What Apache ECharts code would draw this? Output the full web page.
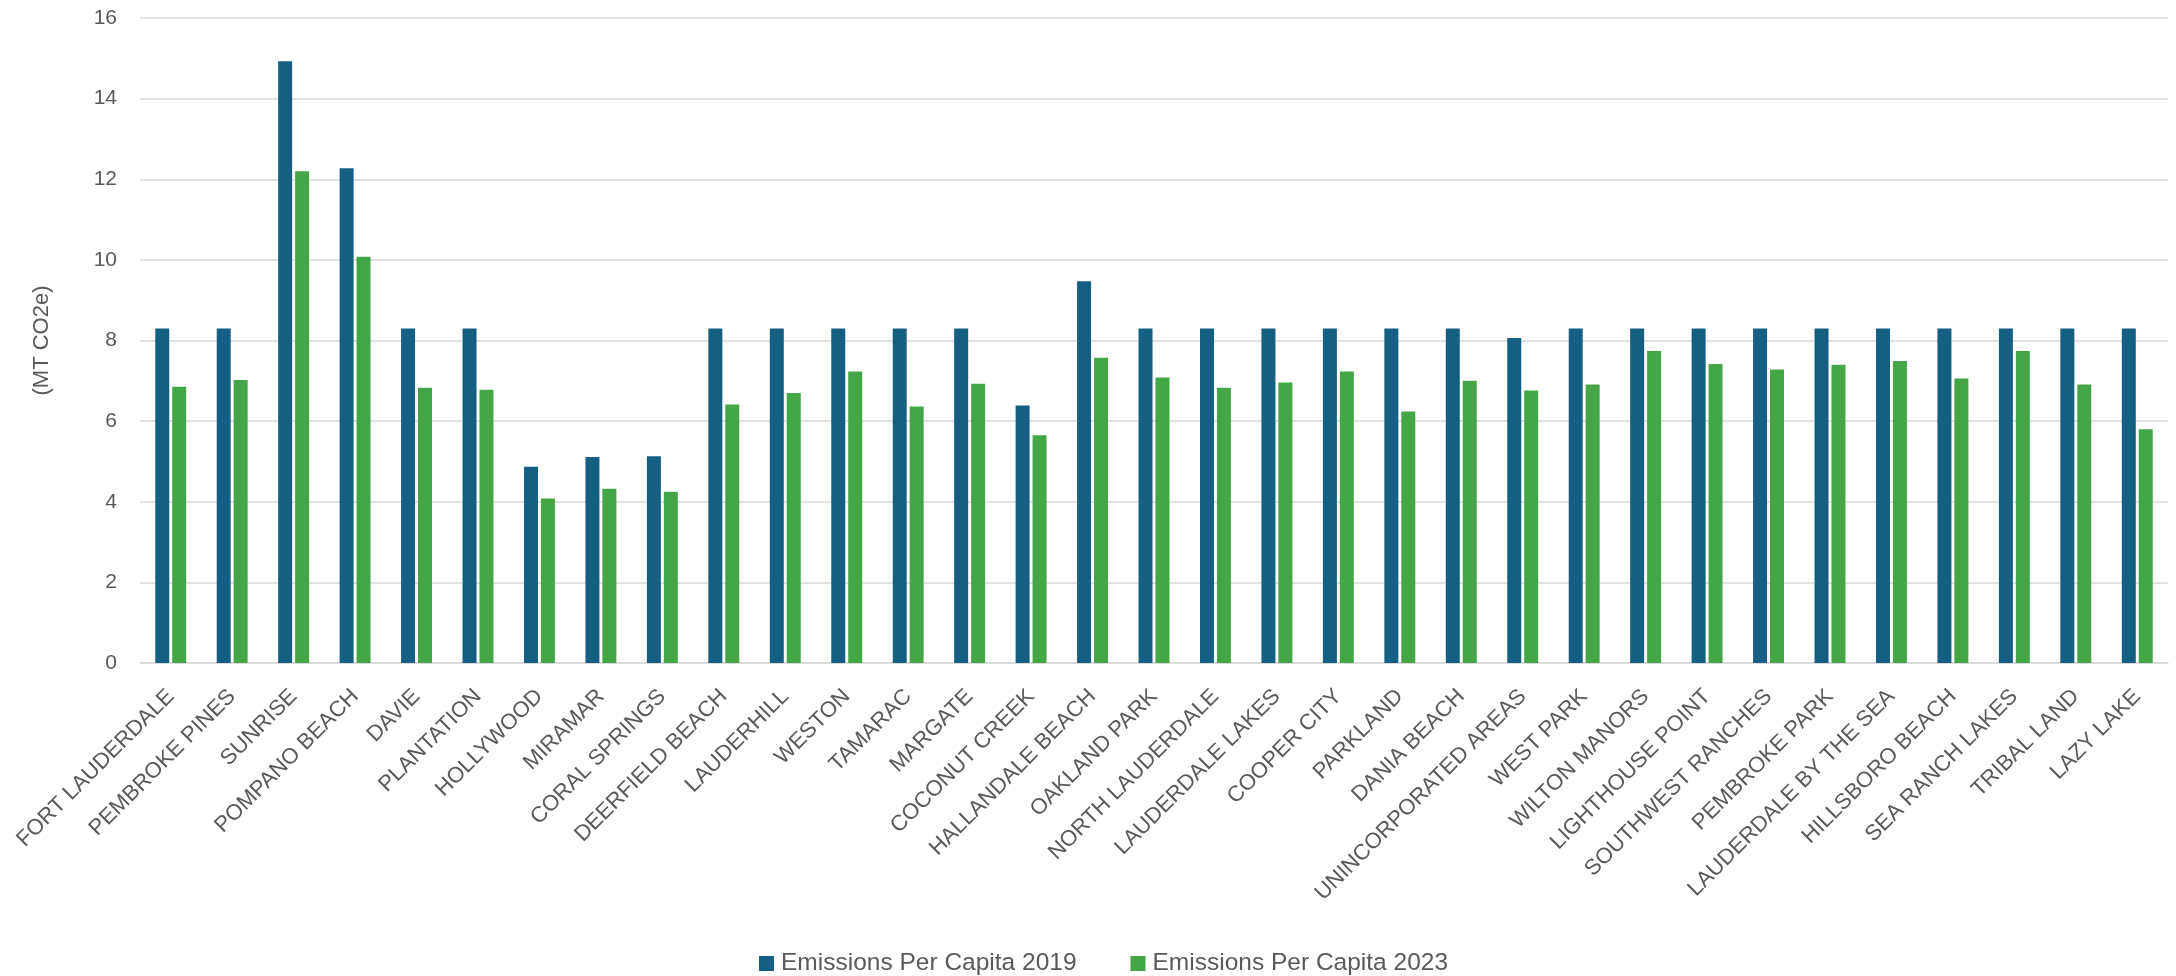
<!DOCTYPE html>
<html>
<head>
<meta charset="utf-8">
<script src="https://cdn.jsdelivr.net/npm/echarts@6/dist/echarts.min.js"></script>
<style>
html,body{margin:0;padding:0;background:#fff;}
#chart{width:2176px;height:976px;}
</style>
</head>
<body>
<div id="chart"></div>
<script>
const categories = ["FORT LAUDERDALE","PEMBROKE PINES","SUNRISE","POMPANO BEACH","DAVIE","PLANTATION","HOLLYWOOD","MIRAMAR","CORAL SPRINGS","DEERFIELD BEACH","LAUDERHILL","WESTON","TAMARAC","MARGATE","COCONUT CREEK","HALLANDALE BEACH","OAKLAND PARK","NORTH LAUDERDALE","LAUDERDALE LAKES","COOPER CITY","PARKLAND","DANIA BEACH","UNINCORPORATED AREAS","WEST PARK","WILTON MANORS","LIGHTHOUSE POINT","SOUTHWEST RANCHES","PEMBROKE PARK","LAUDERDALE BY THE SEA","HILLSBORO BEACH","SEA RANCH LAKES","TRIBAL LAND","LAZY LAKE"];
const emissions2019 = [8.30,8.30,14.93,12.27,8.30,8.30,4.87,5.11,5.13,8.30,8.30,8.30,8.30,8.30,6.39,9.47,8.30,8.30,8.30,8.30,8.30,8.30,8.06,8.30,8.30,8.30,8.30,8.30,8.30,8.30,8.30,8.30,8.30];
const emissions2023 = [6.85,7.02,12.20,10.08,6.83,6.78,4.08,4.32,4.25,6.41,6.70,7.23,6.36,6.93,5.65,7.57,7.08,6.83,6.96,7.23,6.24,7.00,6.76,6.91,7.74,7.42,7.28,7.40,7.49,7.06,7.74,6.91,5.80];
const seriesNames = ["Emissions Per Capita 2019","Emissions Per Capita 2023"];
const yTicks = {min:0,max:16,interval:2};
const yTitle = "(MT CO2e)";

const font = "'Liberation Sans', Arial, sans-serif";
const textColor = "#595959";
const chart = echarts.init(document.getElementById('chart'), null, {renderer:'canvas'});
chart.setOption({
  animation:false,
  backgroundColor:'#ffffff',
  textStyle:{fontFamily:font},
  grid:{left:140,right:8,top:18,bottom:313,containLabel:false},
  legend:{
    data:seriesNames,
    top:946,
    left:754,
    itemWidth:15,itemHeight:15,itemGap:54,
    icon:'rect',
    textStyle:{fontSize:24.5,color:textColor,fontFamily:font,padding:[0,0,0,2]}
  },
  xAxis:{
    type:'category',
    data:categories,
    axisTick:{show:false},
    axisLine:{show:true,lineStyle:{color:'#D9D9D9',width:1.5}},
    axisLabel:{interval:0,rotate:45,margin:30,fontSize:22,color:textColor,fontFamily:font}
  },
  yAxis:{
    type:'value',
    min:yTicks.min,max:yTicks.max,interval:yTicks.interval,
    name:yTitle,
    nameLocation:'middle',
    nameGap:87,
    nameRotate:90,
    nameTextStyle:{fontSize:22,color:textColor,fontFamily:font},
    axisLine:{show:false},
    axisTick:{show:false},
    axisLabel:{margin:23,fontSize:21,color:textColor,fontFamily:font},
    splitLine:{lineStyle:{color:'#D9D9D9',width:1.5}}
  },
  series:[
    {name:seriesNames[0],type:'bar',data:emissions2019,barWidth:14,barGap:'21%',itemStyle:{color:'#156082'}},
    {name:seriesNames[1],type:'bar',data:emissions2023,barWidth:14,barGap:'21%',itemStyle:{color:'#44A647'}}
  ]
});
</script>
</body>
</html>
